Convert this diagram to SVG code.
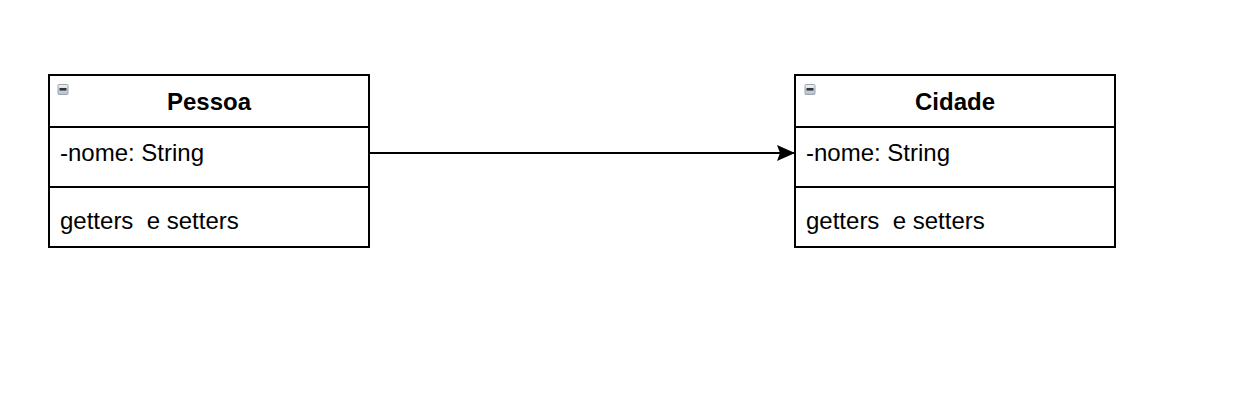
<svg xmlns="http://www.w3.org/2000/svg" width="1244" height="412" viewBox="0 0 1244 412">
<defs>
  <linearGradient id="ig" x1="0" y1="0" x2="0" y2="1">
    <stop offset="0" stop-color="#f2f5f8"/>
    <stop offset="1" stop-color="#b4bec9"/>
  </linearGradient>
  <g id="icon">
    <rect x="0.5" y="0.5" width="10" height="10" rx="1" fill="url(#ig)" stroke="#9aa6b4" stroke-width="1"/>
    <rect x="2" y="4" width="7" height="2.6" fill="#333"/>
  </g>
  <marker id="arr" viewBox="0 0 20 16" refX="20" refY="8" markerWidth="20" markerHeight="16" markerUnits="userSpaceOnUse" orient="auto">
    <path d="M20,8 L2,0 L5,8 L2,16 Z" fill="#000"/>
  </marker>
</defs>
<style>
  .box{fill:#fff;stroke:#000;stroke-width:2}
  .div{stroke:#000;stroke-width:2}
  .t{font-family:"Liberation Sans",Arial,Helvetica,sans-serif;font-size:24px;fill:#000;white-space:pre}
  .h{font-weight:bold;text-anchor:middle}
</style>
<rect width="1244" height="412" fill="#fff"/>
<g id="connectors">
  <line x1="369" y1="153" x2="795" y2="153" stroke="#000" stroke-width="2" marker-end="url(#arr)"/>
</g>
<g id="pessoa">
  <rect class="box" x="49" y="75" width="320" height="172"/>
  <line class="div" x1="49" y1="127" x2="369" y2="127"/>
  <line class="div" x1="49" y1="187" x2="369" y2="187"/>
  <use href="#icon" x="57.5" y="84"/>
  <text class="t h" x="209" y="110">Pessoa</text>
  <text class="t" x="60" y="161">-nome: String</text>
  <text class="t" x="60" y="229" xml:space="preserve">getters  e setters</text>
</g>
<g id="cidade">
  <rect class="box" x="795" y="75" width="320" height="172"/>
  <line class="div" x1="795" y1="127" x2="1115" y2="127"/>
  <line class="div" x1="795" y1="187" x2="1115" y2="187"/>
  <use href="#icon" x="804.5" y="84"/>
  <text class="t h" x="955" y="110">Cidade</text>
  <text class="t" x="806" y="161">-nome: String</text>
  <text class="t" x="806" y="229" xml:space="preserve">getters  e setters</text>
</g>
</svg>
